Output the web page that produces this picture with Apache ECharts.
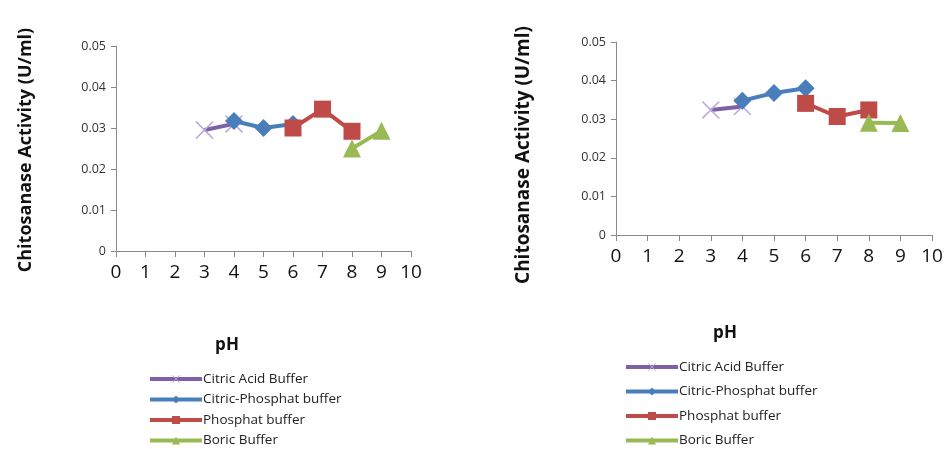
<!DOCTYPE html>
<html>
<head>
<meta charset="utf-8">
<script src="https://cdn.jsdelivr.net/npm/echarts@6/dist/echarts.min.js"></script>
<style>html,body{margin:0;padding:0;background:#fff;}#c{width:947px;height:449px;}</style>
</head>
<body>
<div id="c"></div>
<script>
var seriesNames = ['Citric Acid Buffer', 'Citric-Phosphat buffer', 'Phosphat buffer', 'Boric Buffer'];
var xTicks = [0,1,2,3,4,5,6,7,8,9,10];
var yTicks = [0,0.01,0.02,0.03,0.04,0.05];
// Left chart
var leftCitric = [[3,0.0295],[4,0.031]];
var leftCitPhos = [[4,0.0317],[5,0.0300],[6,0.031]];
var leftPhos = [[6,0.0300],[7,0.0346],[8,0.0292]];
var leftBoric = [[8,0.0250],[9,0.0293]];
// Right chart
var rightCitric = [[3,0.0324],[4,0.0333]];
var rightCitPhos = [[4,0.0348],[5,0.0368],[6,0.0380]];
var rightPhos = [[6,0.0341],[7,0.0307],[8,0.0324]];
var rightBoric = [[8,0.0291],[9,0.0290]];

var colors = { line: ['#7F5FA6','#4A7EBB','#BE4B48','#98B954'], marker: ['#B9A7D6','#4A7EBB','#BE4B48','#98B954'] };
var xSym = 'path://M0,0.6 L0.6,0 L5,4.4 L9.4,0 L10,0.6 L5.6,5 L10,9.4 L9.4,10 L5,5.6 L0.6,10 L0,9.4 L4.4,5 Z';
var symbols = [xSym, 'diamond', 'rect', 'triangle'];
var symSizes = [18, 18, 17, 18];

var ch = echarts.init(document.getElementById('c'), null, {renderer:'canvas'});
var font = 'Open Sans, Liberation Sans, sans-serif';

function mkAxes(gi) {
  return {
    x: {
      type:'value', gridIndex:gi, min:0, max:10, interval:1,
      axisLine:{show:true, lineStyle:{color:'#8a8a8a', width:1}},
      axisTick:{show:true, inside:false, length:6, lineStyle:{color:'#8a8a8a'}},
      splitLine:{show:false},
      axisLabel:{fontSize:19, color:'#111', fontFamily:font, margin:12}
    },
    y: {
      type:'value', gridIndex:gi, min:0, max:0.05, interval:0.01,
      axisLine:{show:true, lineStyle:{color:'#8a8a8a', width:1}},
      axisTick:{show:true, inside:false, length:5, lineStyle:{color:'#8a8a8a'}},
      splitLine:{show:false},
      axisLabel:{fontSize:12.5, color:'#333', fontFamily:font, margin:10,
        formatter:function(v){ return v===0 ? '0' : v.toFixed(2); }}
    }
  };
}
var a0 = mkAxes(0), a1 = mkAxes(1);

var leftData = [leftCitric, leftCitPhos, leftPhos, leftBoric];
var rightData = [rightCitric, rightCitPhos, rightPhos, rightBoric];
var series = [];
[leftData, rightData].forEach(function(set, gi){
  set.forEach(function(d, i){
    series.push({
      name: seriesNames[i], type:'line', xAxisIndex:gi, yAxisIndex:gi,
      data:d, symbol:symbols[i], symbolSize:symSizes[i],
      showAllSymbol:true,
      lineStyle:{color:colors.line[i], width:4},
      itemStyle:{color:colors.marker[i]},
      z: 2 + i
    });
  });
});

function legend(left, top, gap) {
  return {
    orient:'vertical', left:left, top:top, itemGap:gap, padding:0,
    itemWidth:52, itemHeight:10,
    lineStyle:{width:4},
    textStyle:{fontSize:13.5, color:'#222', fontFamily:font, padding:[0,0,0,-4]},
    data: seriesNames
  };
}

var option = {
  animation:false,
  backgroundColor:'#fff',
  grid:[
    {left:116, right:947-411, top:46, bottom:449-251},
    {left:616, right:947-932, top:42, bottom:449-235}
  ],
  xAxis:[a0.x, a1.x],
  yAxis:[a0.y, a1.y],
  legend:[legend(148, 372, 6.5), legend(624, 360, 10.5)],
  graphic:[
    {type:'text', position:[26,150], rotation:Math.PI/2,
     style:{text:'Chitosanase Activity (U/ml)', font:'bold 18px '+font, fill:'#111', textAlign:'center', textVerticalAlign:'middle'}},
    {type:'text', position:[524,155], rotation:Math.PI/2,
     style:{text:'Chitosanase Activity (U/ml)', font:'bold 19px '+font, fill:'#111', textAlign:'center', textVerticalAlign:'middle'}},
    {type:'text', position:[227,345],
     style:{text:'pH', font:'bold 17px '+font, fill:'#111', textAlign:'center', textVerticalAlign:'middle'}},
    {type:'text', position:[725,333],
     style:{text:'pH', font:'bold 17px '+font, fill:'#111', textAlign:'center', textVerticalAlign:'middle'}}
  ],
  series:series
};
ch.setOption(option);
</script>
</body>
</html>
